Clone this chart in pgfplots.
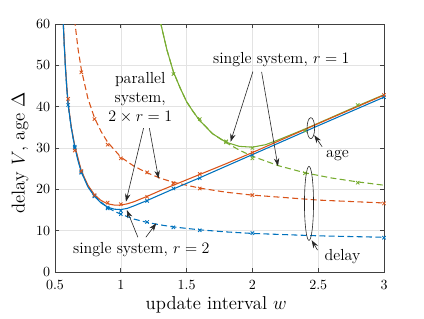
\documentclass[border=0pt]{standalone}
\usepackage{fix-cm}
\usepackage{pgfplots}
\pgfplotsset{compat=1.18}
\usetikzlibrary{arrows.meta}
\definecolor{mblue}{rgb}{0,0.447,0.741}
\definecolor{morange}{rgb}{0.85,0.325,0.098}
\definecolor{mgreen}{rgb}{0.466,0.674,0.188}
\pgfplotstableread{
w V
0.555 67
0.563 60
0.57 55
0.58 49
0.59 44.3
0.60 40.4
0.625 34.6
0.65 30.3
0.675 26.9
0.70 24.2
0.75 20.6
0.80 18.3
0.85 16.7
0.90 15.7
0.95 15.2
1.00 15.1
1.05 15.4
1.10 16.0
1.20 17.3
1.30 18.7
1.40 20.1
1.60 22.8
1.80 25.6
2.00 28.4
2.50 35.4
3.00 42.3
}\blueage
\pgfplotstableread{
w V
0.555 67
0.563 60
0.57 55
0.58 49
0.59 44.3
0.60 40.4
0.625 34.6
0.65 30.3
0.70 24.2
0.75 20.8
0.80 18.5
0.85 16.9
0.90 15.6
0.95 14.7
1.00 14.0
1.10 12.8
1.20 12.0
1.30 11.4
1.40 10.9
1.60 10.2
1.80 9.7
2.00 9.33
2.50 8.75
3.00 8.4
}\bluedelay
\pgfplotstableread{
w V
0.555 67
0.563 60.5
0.57 55.5
0.58 49.5
0.59 44.8
0.60 40.8
0.625 34.9
0.65 30.6
0.70 24.5
0.75 21.0
0.80 18.7
0.85 17.3
0.90 16.5
0.95 16.2
1.00 16.2
1.05 16.5
1.10 17.0
1.20 18.3
1.30 19.7
1.40 21.0
1.60 23.6
1.80 26.2
2.00 28.9
2.50 35.9
3.00 42.8
}\orangeage
\pgfplotstableread{
w V
0.62 72.3
0.64 64
0.65 60.7
0.675 54
0.70 49
0.75 42
0.80 37.3
0.85 34
0.90 31.4
1.00 27.8
1.10 25.6
1.20 24.0
1.30 22.7
1.40 21.7
1.60 20.3
1.80 19.3
2.00 18.6
2.50 17.4
3.00 16.7
}\orangedelay
\pgfplotstableread{
w V
1.26 67
1.28 64
1.30 60.6
1.35 53.8
1.40 48.4
1.45 44.6
1.50 41.2
1.55 38.8
1.60 36.6
1.70 33.4
1.80 31.4
1.90 30.4
2.00 30.2
2.10 30.8
2.20 32.0
2.40 34.6
2.60 37.4
2.80 40.2
3.00 42.9
}\greenage
\pgfplotstableread{
w V
1.26 67
1.28 64
1.30 60.6
1.35 53.8
1.40 48.4
1.45 44.6
1.50 41.2
1.55 38.8
1.60 36.6
1.70 33.4
1.80 31.3
1.90 29.5
2.00 28.0
2.20 25.7
2.40 24.0
2.60 22.75
2.80 21.8
3.00 21.0
}\greendelay
\begin{document}
\begin{tikzpicture}
\begin{axis}[
  scale only axis,
  width=246.75pt, height=186pt,
  xmin=0.5, xmax=3, ymin=0, ymax=60,
  xtick={0.5,1,1.5,2,2.5,3},
  ytick={0,10,20,30,40,50,60},
  xtick pos=both, ytick pos=both,
  tick align=inside,
  major tick length=3pt,
  grid=major,
  major grid style={gray!22, line width=0.4pt},
  axis line style={black!75, line width=0.5pt},
  tick style={black!75, line width=0.5pt},
  ticklabel style={font=\fontsize{10.5}{12}\selectfont, inner sep=1pt},
  xticklabel style={yshift=-5.5pt},
  yticklabel style={xshift=-2.5pt},
  label style={font=\fontsize{14}{16}\selectfont},
  xlabel={update interval $w$},
  ylabel={delay $V$, age $\Delta$},
  xlabel style={at={(axis description cs:0.49,-0.133)}, anchor=center},
  ylabel style={at={(axis description cs:-0.106,0.48)}, anchor=center},
  every axis plot/.append style={line width=0.8pt},
]
% delay curves (dashed)
\addplot[mblue, dashed, dash pattern=on 4.5pt off 2.5pt] table[x=w,y=V] {\bluedelay};
\addplot[morange, dashed, dash pattern=on 4.5pt off 2.5pt] table[x=w,y=V] {\orangedelay};
\addplot[mgreen, dashed, dash pattern=on 4.5pt off 2.5pt] table[x=w,y=V] {\greendelay};
% age curves (solid)
\addplot[mgreen] table[x=w,y=V] {\greenage};
\addplot[morange] table[x=w,y=V] {\orangeage};
\addplot[mblue] table[x=w,y=V] {\blueage};
% simulation markers
\addplot[mblue, only marks, mark=x, mark size=1.8pt, mark options={line width=0.6pt}] coordinates {
(0.6,40.4)(0.65,30.3)(0.7,24.2)(0.8,18.4)(0.9,15.6)(1.0,14.8)(1.2,17.2)(1.4,20.2)(1.6,22.7)(2.0,28.3)(3.0,42.3)};
\addplot[mblue, only marks, mark=x, mark size=1.8pt, mark options={line width=0.6pt}] coordinates {
(0.65,30.0)(0.7,24.0)(0.8,18.3)(0.9,15.4)(1.0,14.0)(1.2,12.1)(1.4,10.8)(1.6,10.1)(2.0,9.4)(3.0,8.3)};
\addplot[morange, only marks, mark=x, mark size=1.8pt, mark options={line width=0.6pt}] coordinates {
(0.6,41.9)(0.65,29.4)(0.7,24.4)(0.8,18.6)(0.9,16.8)(1.0,16.4)(1.2,18.2)(1.4,21.4)(1.6,23.7)(2.0,28.9)(3.0,42.8)};
\addplot[morange, only marks, mark=x, mark size=1.8pt, mark options={line width=0.6pt}] coordinates {
(0.7,48.3)(0.8,37.0)(0.9,30.8)(1.0,27.5)(1.2,24.1)(1.4,21.5)(1.6,20.2)(2.0,18.6)(3.0,16.6)};
\addplot[mgreen, only marks, mark=x, mark size=1.8pt, mark options={line width=0.6pt}] coordinates {
(1.4,47.9)(1.6,37.0)(1.8,31.6)(2.0,30.0)(2.4,34.2)(2.8,40.4)};
\addplot[mgreen, only marks, mark=x, mark size=1.8pt, mark options={line width=0.6pt}] coordinates {
(1.8,31.4)(2.0,27.5)(2.4,23.9)(2.8,21.6)};
% annotations
\node[font=\fontsize{12}{14}\selectfont] at (axis cs:2.22,51.3) {single system, $r=1$};
\draw[black!85, line width=0.45pt, -{Stealth[length=6pt,width=4pt]}] (axis cs:2.004,48.5) -- (axis cs:1.834,31.5);
\draw[black!85, line width=0.45pt, -{Stealth[length=6pt,width=4pt]}] (axis cs:2.07,48.4) -- (axis cs:2.194,25.6);
\node[font=\fontsize{12}{14.25}\selectfont, align=center] at (axis cs:1.148,42.3) {parallel\\system,\\$2\times r=1$};
\draw[black!85, line width=0.45pt, -{Stealth[length=6pt,width=4pt]}] (axis cs:1.173,34.8) -- (axis cs:1.039,17.0);
\draw[black!85, line width=0.45pt, -{Stealth[length=6pt,width=4pt]}] (axis cs:1.217,34.8) -- (axis cs:1.287,22.6);
\node[font=\fontsize{12}{14}\selectfont] at (axis cs:1.156,5.5) {single system, $r=2$};
\draw[black!85, line width=0.45pt, -{Stealth[length=6pt,width=4pt]}] (axis cs:1.13,8.4) -- (axis cs:1.046,15.0);
\draw[black!85, line width=0.45pt, -{Stealth[length=6pt,width=4pt]}] (axis cs:1.19,8.4) -- (axis cs:1.27,11.8);
\draw[black!85, line width=0.45pt] (axis cs:2.444,34.8) ellipse [x radius=2.85pt, y radius=7.9pt];
\node[font=\fontsize{12}{14}\selectfont] at (axis cs:2.647,28.3) {age};
\draw[black!85, line width=0.45pt, -{Stealth[length=6pt,width=4pt]}] (axis cs:2.53,30.3) -- (axis cs:2.47,33.1);
\draw[black!85, line width=0.45pt] (axis cs:2.43,16.6) ellipse [x radius=3.4pt, y radius=27.75pt];
\node[font=\fontsize{12}{14}\selectfont] at (axis cs:2.685,3.7) {delay};
\draw[black!85, line width=0.45pt, -{Stealth[length=6pt,width=4pt]}] (axis cs:2.495,5.3) -- (axis cs:2.45,7.7);
\end{axis}
\path ([shift={(-41.25pt,-34.5pt)}]current axis.south west) rectangle ([shift={(30pt,18pt)}]current axis.north east);
\end{tikzpicture}
\end{document}
